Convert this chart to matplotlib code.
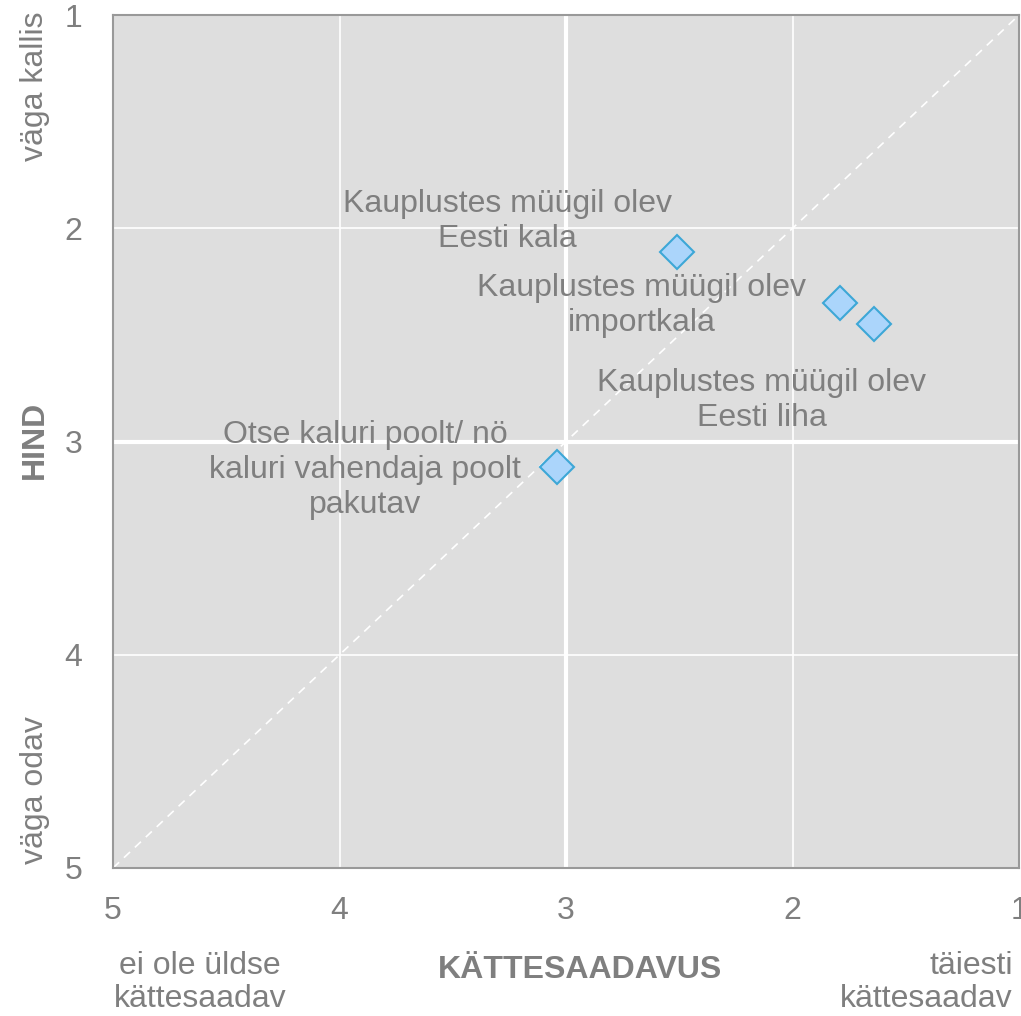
import matplotlib.pyplot as plt

plt.rcParams['font.family'] = ['Liberation Sans', 'DejaVu Sans']

# data
labels = ["Kauplustes müügil olev\nEesti kala",
          "Kauplustes müügil olev\nimportkala",
          "Kauplustes müügil olev\nEesti liha",
          "Otse kaluri poolt/ nö\nkaluri vahendaja poolt\npakutav"]
availability = [2.51, 1.79, 1.64, 3.04]
price = [2.11, 2.35, 2.45, 3.12]
label_offsets = [(-122, 22), (-143, -2), (-81, -55), (-138, -2)]

ticks = [1, 2, 3, 4, 5]
gray = '#7f7f7f'
fs = 23

fig = plt.figure(figsize=(10.21, 10.16), dpi=100)
ax = fig.add_axes([0.1107, 0.1457, 0.8874, 0.8395])
ax.set_facecolor('#dedede')

ax.set_xlim(5, 1)
ax.set_ylim(5, 1)

# grid lines
for v in [2, 4]:
    ax.axvline(v, color='white', lw=1.2, zorder=1)
    ax.axhline(v, color='white', lw=1.2, zorder=1)
ax.axvline(3, color='white', lw=3, zorder=1)
ax.axhline(3, color='white', lw=3, zorder=1)

# diagonal
ax.plot([5, 1], [5, 1], color='white', lw=1.2, ls=(0, (5, 4)), zorder=1)

ax.plot(availability, price, 'D', ms=17, mfc='#abd5fb', mec='#3da7d6',
        mew=1.5, zorder=3)

for lab, x, y, off in zip(labels, availability, price, label_offsets):
    ax.annotate(lab, (x, y), xytext=off, textcoords='offset points',
                ha='center', va='center', fontsize=fs, color=gray,
                linespacing=1.23, zorder=4)

ax.set_xticks(ticks)
ax.set_yticks(ticks)
ax.tick_params(length=0, labelsize=fs, labelcolor=gray)
ax.tick_params(axis='x', pad=20)
ax.tick_params(axis='y', pad=22)
for s in ax.spines.values():
    s.set_color('#999999')
    s.set_linewidth(1.5)

# axis titles and end labels
fig.text(0.034, 0.567, 'HIND', rotation=90, ha='center', va='center',
         fontsize=fs, fontweight='bold', color=gray)
fig.text(0.034, 0.915, 'väga kallis', rotation=90, ha='center', va='center',
         fontsize=fs, color=gray)
fig.text(0.034, 0.222, 'väga odav', rotation=90, ha='center', va='center',
         fontsize=fs, color=gray)
fig.text(0.568, 0.045, 'KÄTTESAADAVUS', ha='center', va='center',
         fontsize=fs, fontweight='bold', color=gray)
fig.text(0.196, 0.033, 'ei ole üldse\nkättesaadav', ha='center', va='center',
         fontsize=fs, color=gray, linespacing=1.15)
fig.text(0.992, 0.033, 'täiesti\nkättesaadav', ha='right', va='center',
         fontsize=fs, color=gray, linespacing=1.15)

fig.savefig('out.png', dpi=100)
